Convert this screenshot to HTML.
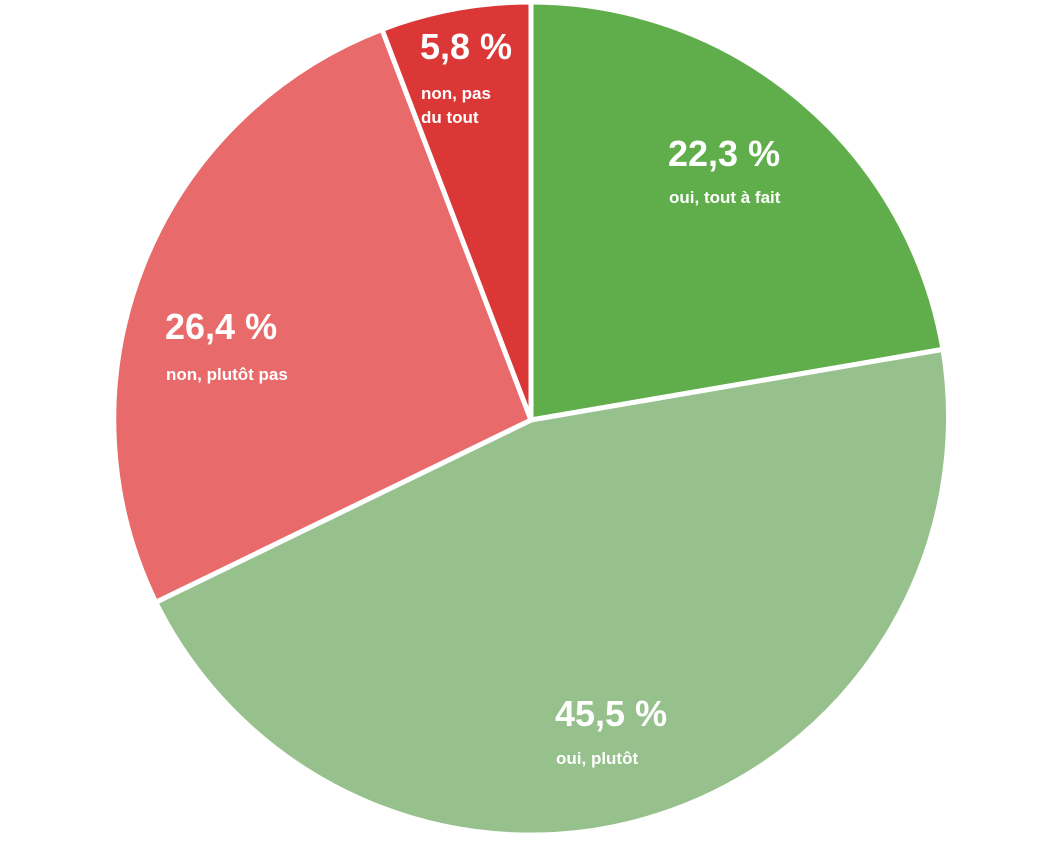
<!DOCTYPE html>
<html><head><meta charset="utf-8"><style>
html,body{margin:0;padding:0;background:#fff;overflow:hidden;}
svg{display:block;}
text{font-family:"Liberation Sans",sans-serif;font-weight:bold;fill:#fff;}
.b{font-size:36px;}
.s{font-size:17px;}
</style></head><body>
<svg width="1037" height="842" viewBox="0 0 1037 842">
<g stroke="#fff" stroke-width="5" stroke-linejoin="round">
<path d="M531,420 L531,2 A418,418 0 0 1 943,349.4 Z" fill="#60ae4b"/>
<path d="M531,420 L943,349.4 A418,418 0 0 1 155.8,602.3 Z" fill="#96c08c"/>
<path d="M531,420 L155.8,602.3 A418,418 0 0 1 382,29.4 Z" fill="#e86a6a"/>
<path d="M531,420 L382,29.4 A418,418 0 0 1 531,2 Z" fill="#dc3737"/>
</g>
<text class="b" x="668" y="166">22,3 %</text>
<text class="s" x="669" y="203">oui, tout à fait</text>
<text class="b" x="555" y="726">45,5 %</text>
<text class="s" x="556" y="764">oui, plutôt</text>
<text class="b" x="165" y="339">26,4 %</text>
<text class="s" x="166" y="380">non, plutôt pas</text>
<text class="b" x="420" y="59">5,8 %</text>
<text class="s" x="421" y="99">non, pas</text>
<text class="s" x="421" y="123">du tout</text>
</svg>
</body></html>
